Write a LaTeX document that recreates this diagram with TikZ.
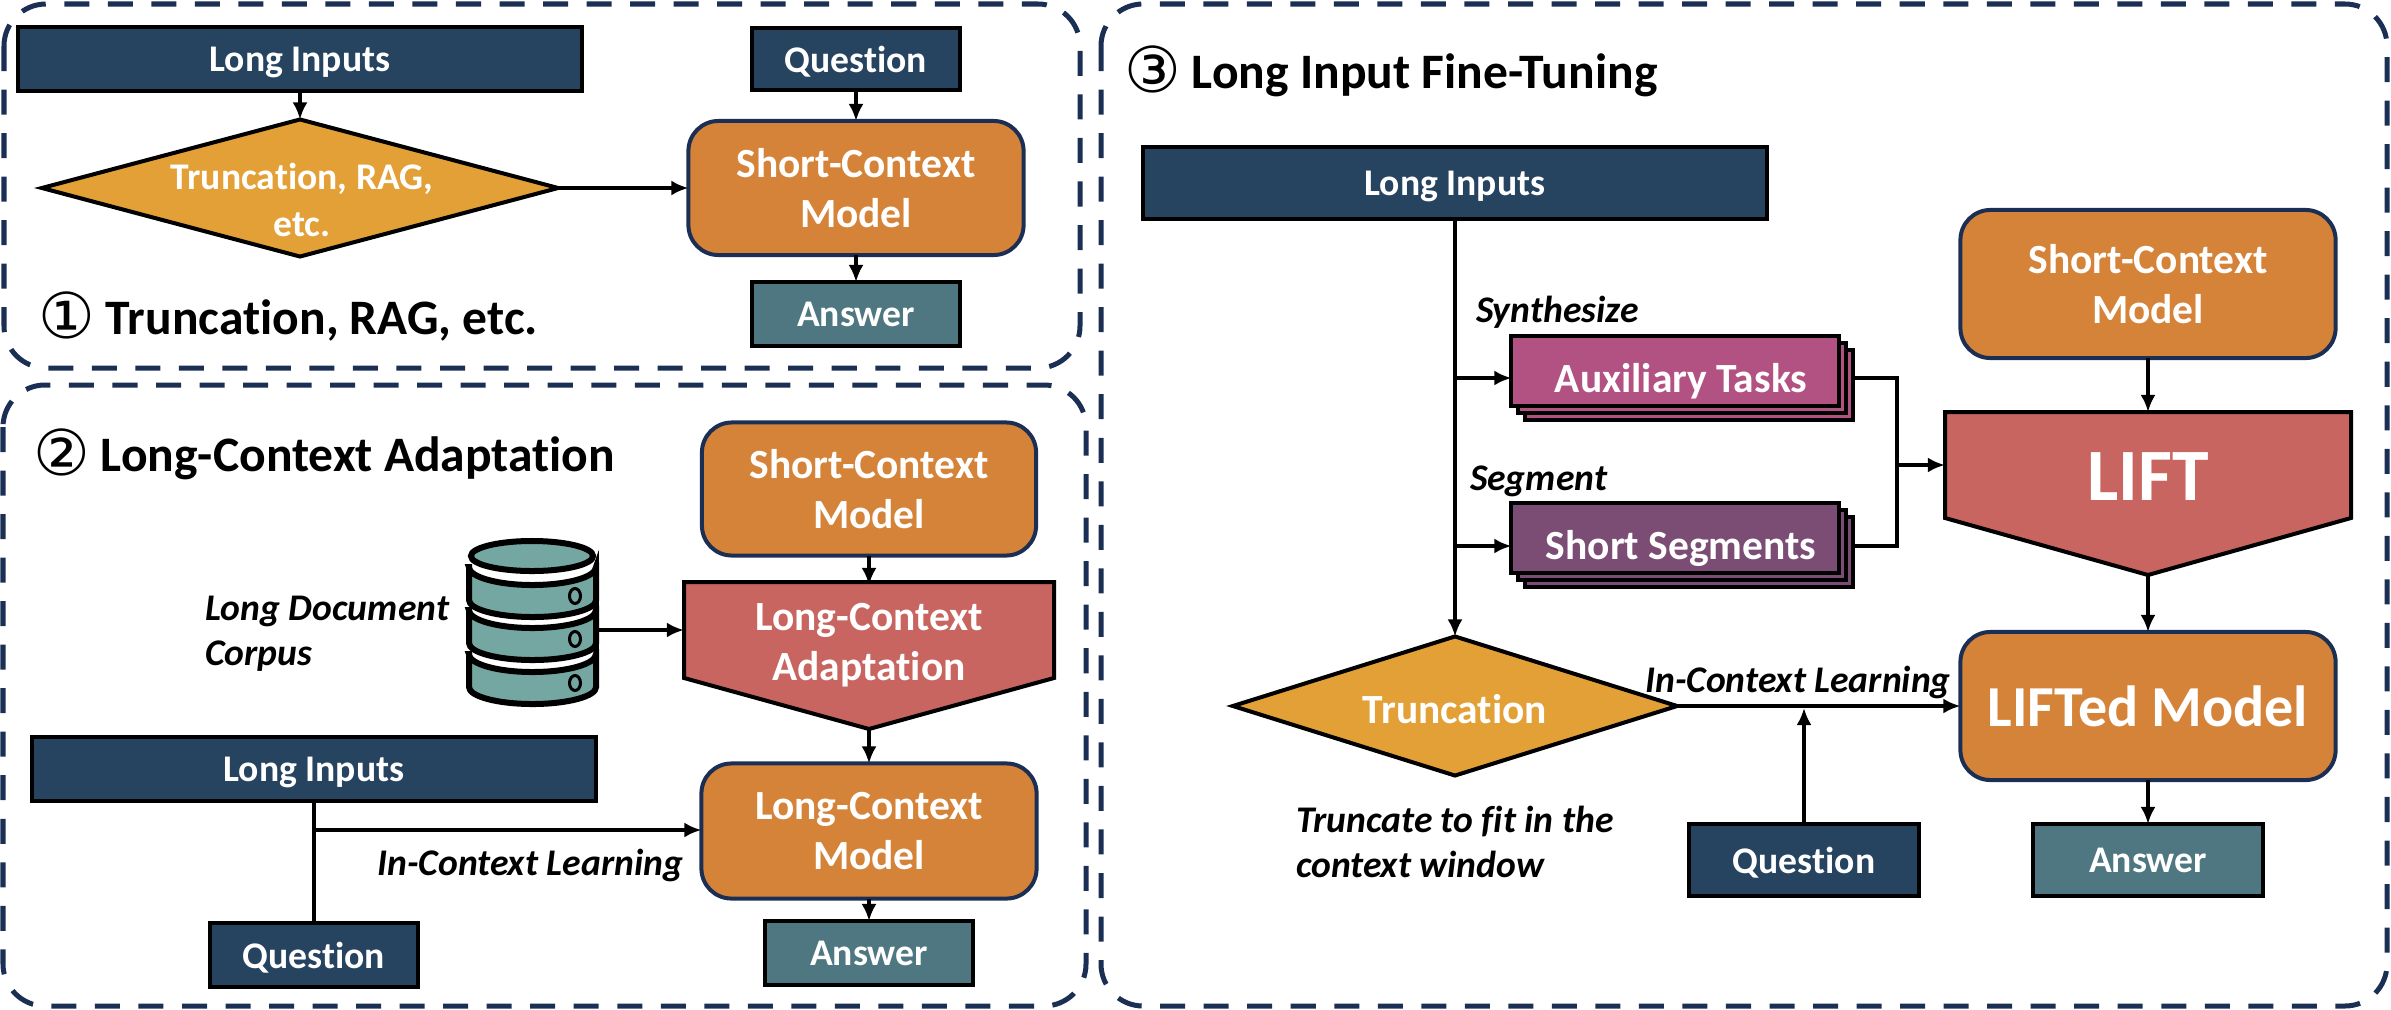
\documentclass[tikz,border=0pt]{standalone}
\usepackage{fontspec}
\setmainfont[Ligatures=NoCommon]{Carlito}
\newfontfamily\circfont{DejaVu Sans}
\newcommand{\circnum}[1]{{\circfont\mdseries\fontsize{18}{18}\selectfont\raisebox{-0.04cm}{#1}}}
\usepackage{xcolor}
\usepackage{tikz}
\usetikzlibrary{arrows.meta,positioning,shapes.geometric}

\definecolor{navyfill}{HTML}{264360}
\definecolor{navyline}{HTML}{1B2F55}
\definecolor{tealfill}{HTML}{4E7781}
\definecolor{orangefill}{HTML}{D58338}
\definecolor{goldfill}{HTML}{E3A037}
\definecolor{redfill}{HTML}{C86560}
\definecolor{pinkfill}{HTML}{B25283}
\definecolor{plumfill}{HTML}{7B4D75}
\definecolor{dbfill}{HTML}{75A7A2}

\tikzset{
  every node/.style={outer sep=0pt, inner sep=0pt},
  panel/.style={draw=navyline, line width=0.05cm, rounded corners=0.42cm, dash pattern=on 0.25cm off 0.185cm},
  boxtext/.style={text=white, align=center, font=\fontsize{11.8}{14.2}\selectfont\bfseries},
  inbox/.style={boxtext, draw=black, line width=0.04cm, fill=navyfill, text depth=0pt, font=\fontsize{10.7}{12}\selectfont\bfseries},
  ansbox/.style={inbox, fill=tealfill},
  modelbox/.style={boxtext, draw=navyline, line width=0.04cm, fill=orangefill, rounded corners=0.3cm},
  choicebox/.style={diamond, draw=black, line width=0.04cm, fill=goldfill},
  pentline/.style={draw=black, line width=0.04cm, fill=redfill},
  stackbox/.style={boxtext, draw=black, line width=0.04cm, minimum width=3.27cm, minimum height=0.70cm, text height=0.42cm, text depth=0pt},
  title/.style={anchor=west, font=\fontsize{14.1}{16}\selectfont\bfseries},
  note/.style={align=left, font=\fontsize{10.7}{12.8}\selectfont\bfseries\itshape},
  conn/.style={line width=0.035cm},
}

\begin{document}
\begin{tikzpicture}[x=0.01cm, y=-0.01cm, >={Latex[length=0.17cm,width=0.15cm]}]
\useasboundingbox (0,0) rectangle (2391,1009);

% panels
\draw[panel] (4,4) rectangle (1080,368);
\draw[panel] (3,385) rectangle (1086,1006);
\draw[panel] (1101,4) rectangle (2387,1006);

% first panel
\node[inbox, minimum width=5.63cm, minimum height=0.63cm] (long1) at (300,59) {Long Inputs};
\node[inbox, minimum width=2.08cm, minimum height=0.62cm] (quest1) at (856,59) {Question};
\node[choicebox, minimum width=5.16cm, minimum height=1.37cm] (trunc1) at (300,188) {};
\node[boxtext, font=\fontsize{10.7}{13.2}\selectfont\bfseries] (trunc1text) at (302,200) {Truncation, RAG,\\etc.};
\node[modelbox, minimum width=3.35cm, minimum height=1.34cm] (short1) at (856,188) {Short-Context\\Model};
\node[ansbox, minimum width=2.08cm, minimum height=0.64cm] (ans1) at (856,314) {Answer};
\node[title] (title1) at (38,316) {\circnum{①} Truncation, RAG, etc.};

\draw[conn, ->] (long1) to (trunc1);
\draw[conn, ->] (quest1) to (short1);
\draw[conn, ->] (trunc1) to (short1);
\draw[conn, ->] (short1) to (ans1);

% second panel
\node[title] (title2) at (33,454) {\circnum{②} Long-Context Adaptation};
\node[modelbox, minimum width=3.34cm, minimum height=1.33cm] (short2) at (869,489) {Short-Context\\Model};
\draw[pentline] (684,582) -- (1054,582) -- (1054,678) -- (869,729) -- (684,678) -- cycle;
\coordinate (adapttip) at (869,729);
\node[boxtext, minimum width=3.7cm, minimum height=1.2cm] (adapt) at (869,645) {Long-Context\\Adaptation};
\node[modelbox, minimum width=3.35cm, minimum height=1.35cm] (longmodel) at (869,831) {Long-Context\\Model};
\node[ansbox, minimum width=2.08cm, minimum height=0.64cm] (ans2) at (869,953) {Answer};
\node[inbox, minimum width=5.64cm, minimum height=0.64cm] (long2) at (314,769) {Long Inputs};
\node[inbox, minimum width=2.08cm, minimum height=0.64cm] (quest2) at (314,955) {Question};
\node[note, anchor=west] (corpus) at (205,634) {Long Document\\Corpus};
\coordinate (branch2) at (314,830);

% database icon
\foreach \y in {567,610,654} {
  \draw[fill=dbfill, draw=black, line width=0.06cm] (469,\y) -- ++(0,33)
    arc[start angle=180, end angle=360, x radius=0.635cm, y radius=0.17cm] -- (596,\y)
    arc[start angle=0, end angle=-180, x radius=0.635cm, y radius=0.18cm] -- cycle;
  \draw[fill=dbfill, draw=black, line width=0.03cm] (575,\y+29) ellipse (0.055cm and 0.075cm);
}
\draw[fill=dbfill, draw=black, line width=0.06cm] (532,556) ellipse (0.61cm and 0.15cm);
\node[minimum width=1.27cm, minimum height=1cm] (db) at (532.5,630) {};

\draw[conn, ->] (short2) to (adapt);
\draw[conn, ->] (db.east) to (db.east -| adapt.west);
\draw[conn, ->] (adapttip) to (longmodel);
\draw[conn, ->] (longmodel) to (ans2);
\draw[conn] (long2) to (quest2);
\draw[conn, ->] (branch2) to node[note, below=0.19cm, xshift=0.225cm]{In-Context Learning} (branch2 -| longmodel.west);

% third panel
\node[title] (title3) at (1124,71) {\circnum{③} Long Input Fine-Tuning};
\node[inbox, minimum width=6.24cm, minimum height=0.72cm] (long3) at (1455,183) {Long Inputs};
\node[modelbox, minimum width=3.75cm, minimum height=1.48cm] (short3) at (2148,284) {Short-Context\\Model};
\draw[pentline] (1945,412) -- (2351,412) -- (2351,518) -- (2148,575) -- (1945,518) -- cycle;
\coordinate (lifttip) at (2148,575);
\node[boxtext, font=\fontsize{21}{24}\selectfont\bfseries, minimum width=4.06cm, minimum height=1.3cm] (lift) at (2148,477) {LIFT};
\node[modelbox, font=\fontsize{16.5}{20}\selectfont\bfseries, minimum width=3.75cm, minimum height=1.48cm] (lifted) at (2148,706) {LIFTed Model};
\node[choicebox, minimum width=4.44cm, minimum height=1.39cm] (trunc3) at (1455,706) {};
\node[boxtext] (trunc3text) at (1455,709) {Truncation};
\node[inbox, minimum width=2.3cm, minimum height=0.72cm] (quest3) at (1804,860) {Question};
\node[ansbox, minimum width=2.3cm, minimum height=0.72cm] (ans3) at (2148,860) {Answer};

\node[stackbox, fill=pinkfill] (aux3) at (1689,385) {};
\node[stackbox, fill=pinkfill] (aux2) at (1682,378) {};
\node[stackbox, fill=pinkfill] (aux) at (1675,371) {\hspace*{0.12cm}Auxiliary Tasks};
\node[stackbox, fill=plumfill] (seg3) at (1689,552) {};
\node[stackbox, fill=plumfill] (seg2) at (1682,545) {};
\node[stackbox, fill=plumfill] (seg) at (1675,538) {\hspace*{0.12cm}Short Segments};

\node[note, anchor=west] (synth) at (1476,312) {Synthesize};
\node[note, anchor=west] (segm) at (1470,481) {Segment};
\node[note, anchor=west] (fit) at (1296,842) {Truncate to fit in the\\context window};
\node[note] (incontext) at (1798,682) {In-Context Learning};

\coordinate (auxin) at (1455,378);
\coordinate (segin) at (1455,546);
\coordinate (auxout) at (1853,378);
\coordinate (segout) at (1853,546);
\coordinate (joinpt) at (1897,465);
\coordinate (merge3) at (1804,708);

\draw[conn, ->] (long3) to (trunc3);
\draw[conn, ->] (auxin) to (auxin -| aux.west);
\draw[conn, ->] (segin) to (segin -| seg.west);
\draw[conn] (auxout) -| (joinpt);
\draw[conn] (segout) -| (joinpt);
\draw[conn, ->] (joinpt) to (joinpt -| lift.west);
\draw[conn, ->] (short3) to (lift);
\draw[conn, ->] (lifttip) to (lifted);
\draw[conn, ->] (trunc3) to (lifted);
\draw[conn, ->] (quest3) to (merge3);
\draw[conn, ->] (lifted) to (ans3);
\end{tikzpicture}
\end{document}
